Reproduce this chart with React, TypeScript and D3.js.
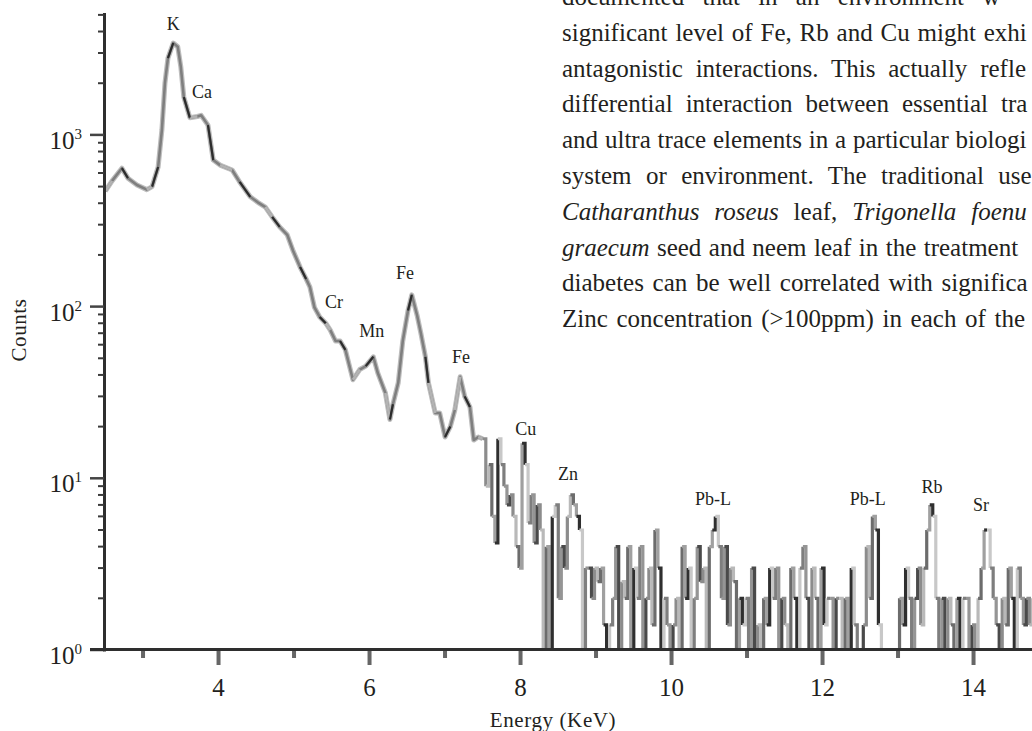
import React from "react";
import * as d3 from "d3";

// ---- data ----
const smoothEnergy = [2.50, 2.59, 2.72, 2.80, 2.92, 3.05, 3.12, 3.20, 3.25, 3.29, 3.33, 3.40, 3.46, 3.50, 3.54, 3.62, 3.72, 3.77, 3.86, 3.93, 4.02, 4.18, 4.28, 4.42, 4.52, 4.62, 4.71, 4.81, 4.91, 4.99, 5.08, 5.16, 5.21, 5.27, 5.34, 5.42, 5.48, 5.55, 5.61, 5.68, 5.78, 5.87, 5.95, 6.05, 6.11, 6.21, 6.27, 6.31, 6.38, 6.44, 6.51, 6.56, 6.63, 6.68, 6.74, 6.78, 6.87, 6.93, 7.00, 7.07, 7.13, 7.20, 7.26, 7.33, 7.38, 7.44];
const smoothCounts = [470, 540, 640, 560, 511, 480, 500, 650, 1070, 2000, 2800, 3430, 3260, 2500, 1660, 1260, 1280, 1300, 1140, 714, 667, 625, 532, 436, 405, 380, 333, 291, 262, 210, 170, 145, 130, 99, 87, 80, 73, 63, 63, 56, 37.5, 43, 45, 51, 41, 31.4, 22, 27, 36, 63, 95, 117, 89, 70, 51, 36, 24, 24, 17.4, 20, 25, 39, 30, 26, 16.7, 17.4];

// channel data (0.04 KeV channels) starting at 7.50 KeV
const channelStart = 7.5;
const channelWidth = 0.04;
const channelCounts = [17, 9, 12, 6, 4.2, 17, 12, 9, 7, 8, 6, 4, 3, 16, 12, 5.5, 8, 4.2, 7, 5, 0, 4, 0, 6, 7, 2, 4, 3, 6, 8, 7, 6, 5, 0, 3, 3,
  2, 3, 2.5, 3, 1.4, 0, 1.4, 2, 4, 0, 2.5, 2, 4, 0, 3, 2, 4, 0, 2, 3, 1.4, 5, 3, 0, 2, 1.4, 0, 1.4, 2, 0, 4, 2, 3, 0, 2, 4, 2.5, 3, 0, 4, 5, 6, 4, 2, 4, 1.4, 3, 2.5, 0, 2, 1.4, 2, 0, 3, 0, 1.4, 0, 2, 1.4, 3, 2, 3, 0, 2, 1.4, 0, 3, 2, 0, 3, 4, 2, 0, 3, 2, 0, 3, 1.4, 2, 2, 0, 2, 2, 0, 2, 0, 3, 1.4, 0, 0, 1.4, 4, 2, 6, 5, 1.4, 0, 0, 0, 0, 0, 0, 2, 1.4, 3, 2, 0, 2, 3, 1.4, 3, 5, 7, 6, 2, 0, 2, 0, 2, 1.4, 0, 2, 0, 2, 2, 0, 1.4, 0, 2, 3, 5, 5, 3, 2, 1.4, 0, 2, 1.4, 3, 2, 0, 3, 2, 1.4, 2, 1.4, 2, 0];

const peakLabels = ["K", "Ca", "Cr", "Mn", "Fe", "Fe", "Cu", "Zn", "Pb-L", "Pb-L", "Rb", "Sr"];
const peakLabelEnergy = [3.40, 3.78, 5.53, 6.03, 6.47, 7.21, 8.07, 8.63, 10.55, 12.60, 13.45, 14.10];
const peakLabelCount = [4085, 1640, 98, 66.5, 145, 47, 17.9, 9.77, 7.0, 7.0, 8.2, 6.45];

const xTickValues = [4, 6, 8, 10, 12, 14];
const xMinorTickValues = [3, 5, 7, 9, 11, 13, 15];
const yTickExponents = [0, 1, 2, 3];

// paragraph text of the page, as far as it is visible in the picture
const paragraphLines = [
  [{ t: "documented that in an environment w", i: false }],
  [{ t: "significant level of Fe, Rb and Cu might exhi", i: false }],
  [{ t: "antagonistic interactions. This actually refle", i: false }],
  [{ t: "differential interaction between essential tra", i: false }],
  [{ t: "and ultra trace elements in a particular biologi", i: false }],
  [{ t: "system or environment. The traditional use", i: false }],
  [{ t: "Catharanthus roseus", i: true }, { t: " leaf, ", i: false }, { t: "Trigonella foenu", i: true }],
  [{ t: "graecum", i: true }, { t: " seed and neem leaf in the treatment", i: false }],
  [{ t: "diabetes can be well correlated with significa", i: false }],
  [{ t: "Zinc concentration (>100ppm) in each of the", i: false }],
];
const paragraphWordSpacing = [12, 1.6, 6.6, 6.8, 0.6, 8.2, 8.6, 1.2, 2.4, 2.4];

// ---- layout ----
const W = 1032, H = 731;
const SERIF = "'Liberation Serif', 'Times New Roman', serif";
const shades = ["#8c8c8c", "#b9b9b9", "#6c6c6c", "#a0a0a0", "#2f2f2f", "#c8c8c8", "#7e7e7e", "#959595", "#4a4a4a"];

type P = { e: number; c: number };

export default function App() {
  const x = d3.scaleLinear().domain([2.483, 15.2]).range([104, 104 + (15.2 - 2.483) * 75.5]);
  const y = d3.scaleLog().domain([1, 5100]).range([650, 650 - Math.log10(5100) * 171.7]);

  const smoothPts: P[] = smoothEnergy.map((e, i) => ({ e, c: smoothCounts[i] }));
  const chanPts: P[] = channelCounts.map((c, i) => ({ e: channelStart + i * channelWidth, c }));
  const smoothAll = [...smoothPts, chanPts[0]];

  const line = d3.line<P>().x(d => x(d.e)).y(d => y(Math.max(d.c, 1)));
  const stepLine = d3.line<P>().x(d => x(d.e)).y(d => y(Math.max(d.c, 1))).curve(d3.curveStepAfter);
  const smoothPath = line(smoothAll) || "";

  const darkSegs: string[] = [];
  const lightSegs: string[] = [];
  for (let i = 0; i < smoothAll.length - 1; i++) {
    const seg = line([smoothAll[i], smoothAll[i + 1]]) || "";
    if (i % 4 === 2) darkSegs.push(seg);
    else if (i % 5 === 0) lightSegs.push(seg);
  }
  const chanSegs: string[] = [];
  for (let i = 0; i < chanPts.length - 1; i++) chanSegs.push(stepLine([chanPts[i], chanPts[i + 1]]) || "");

  const yMinor: number[] = [];
  for (let k = 0; k <= 3; k++) for (let m = 2; m <= 9; m++) { const v = m * Math.pow(10, k); if (v <= 5000) yMinor.push(v); }

  const axisColor = "#2e2e2e";
  return (
    <div style={{ position: "absolute", left: 0, top: 0, width: W, height: H, overflow: "hidden", background: "#fff" }}>
      <svg width={W} height={H} style={{ display: "block" }} fontFamily={SERIF}>
        <defs>
          <clipPath id="plotclip"><rect x={104} y={0} width={W} height={650} /></clipPath>
        </defs>

        {/* paragraph text */}
        {paragraphLines.map((ln, li) => (
          <text key={li} x={562} y={5 + li * 35.8} fontSize={25} fill="#231f20" wordSpacing={paragraphWordSpacing[li]}>
            {ln.map((s, si) => (
              <tspan key={si} fontStyle={s.i ? "italic" : "normal"}>{s.t}</tspan>
            ))}
          </text>
        ))}

        {/* spectrum */}
        <g clipPath="url(#plotclip)" fill="none" strokeLinejoin="round" strokeLinecap="butt">
          <path d={smoothPath} stroke="#bdbdbd" strokeWidth={5} />
          <path d={smoothPath} stroke="#7f7f7f" strokeWidth={2.6} />
          {lightSegs.map((d, i) => <path key={"l" + i} d={d} stroke="#b3b3b3" strokeWidth={2.6} />)}
          {darkSegs.map((d, i) => <path key={"d" + i} d={d} stroke="#2c2c2c" strokeWidth={2.2} />)}
          {chanSegs.map((d, i) => (
            <path key={"c" + i} d={d} stroke={shades[i % shades.length]} strokeWidth={3.2} strokeLinejoin="miter" />
          ))}
        </g>

        {/* y axis */}
        <line x1={104.5} x2={104.5} y1={13} y2={651.5} stroke={axisColor} strokeWidth={3} />
        {yTickExponents.map(k => (
          <line key={"ym" + k} x1={90} x2={104} y1={y(Math.pow(10, k))} y2={y(Math.pow(10, k))} stroke="#444" strokeWidth={2.5} />
        ))}
        {yMinor.map(v => (
          <line key={"yn" + v} x1={98} x2={104} y1={y(v)} y2={y(v)} stroke="#3a3a3a" strokeWidth={2} />
        ))}
        {yTickExponents.map(k => (
          <text key={"yl" + k} x={82} y={y(Math.pow(10, k)) + 14} fontSize={25} textAnchor="end" fill="#231f20">
            10<tspan fontSize={15} dy={-10}>{k}</tspan>
          </text>
        ))}

        {/* x axis */}
        <line x1={90} x2={W} y1={649.5} y2={649.5} stroke={axisColor} strokeWidth={3} />
        {xTickValues.map(v => (
          <line key={"xt" + v} x1={x(v)} x2={x(v)} y1={651} y2={665} stroke="#666" strokeWidth={4} />
        ))}
        {xMinorTickValues.map(v => (
          <line key={"xn" + v} x1={x(v)} x2={x(v)} y1={651} y2={658} stroke="#666" strokeWidth={4} />
        ))}
        {xTickValues.map(v => (
          <text key={"xl" + v} x={x(v)} y={696} fontSize={25} textAnchor="middle" fill="#231f20">{v}</text>
        ))}

        {/* axis titles */}
        <text x={553} y={727} fontSize={21} textAnchor="middle" fill="#231f20" letterSpacing={0.6}>Energy (KeV)</text>
        <text transform="translate(26,330) rotate(-90)" fontSize={21} textAnchor="middle" fill="#231f20" letterSpacing={0.6}>Counts</text>

        {/* peak labels */}
        {peakLabels.map((lab, i) => (
          <text key={"pk" + i} x={x(peakLabelEnergy[i])} y={y(peakLabelCount[i])} fontSize={18} textAnchor="middle" fill="#231f20">{lab}</text>
        ))}
      </svg>
    </div>
  );
}
